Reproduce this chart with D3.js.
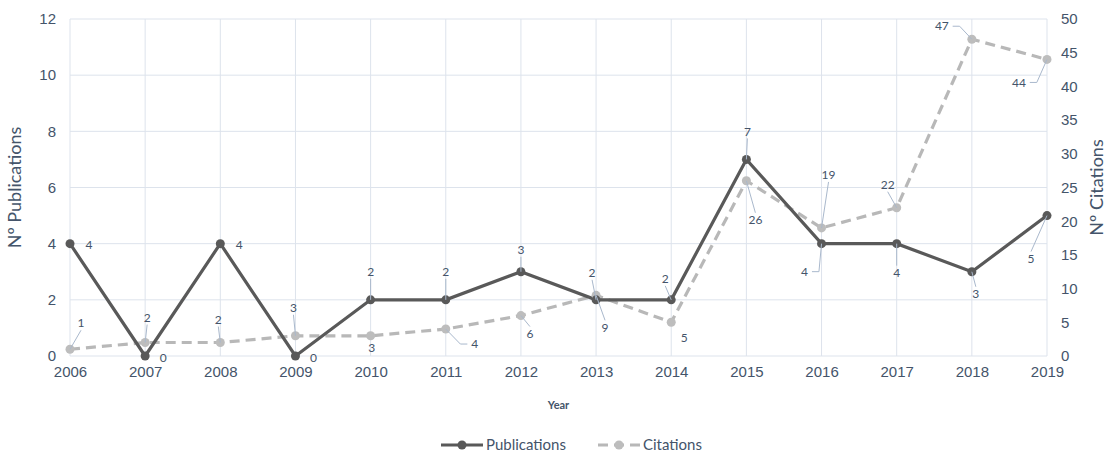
<!DOCTYPE html>
<html>
<head>
<meta charset="utf-8">
<script src="https://cdn.jsdelivr.net/npm/d3@7"></script>
<style>
  body { margin: 0; background: #fff; }
  svg { font-family: Lato, "Open Sans", sans-serif; }
  .tick text { fill: #44546a; font-size: 15px; }
  .lbl { fill: #44546a; font-size: 12px; }
</style>
</head>
<body>
<script>
// data
var years = ["2006","2007","2008","2009","2010","2011","2012","2013","2014","2015","2016","2017","2018","2019"];
var publications = [4, 0, 4, 0, 2, 2, 3, 2, 2, 7, 4, 4, 3, 5];
var citations = [1, 2, 2, 3, 3, 4, 6, 9, 5, 26, 19, 22, 47, 44];
var pubTicks = [0, 2, 4, 6, 8, 10, 12];
var citTicks = [0, 5, 10, 15, 20, 25, 30, 35, 40, 45, 50];

// label offsets from the point (layout only)
var pubLabelOff = [[19,1],[18,2],[19,1],[18,2],[0,-28],[0,-28],[0,-22],[-4,-27],[-6,-21],[1,-28],[-17,28],[0,29],[4,22],[-16,43]];
var citLabelOff = [[11,-26],[2,-25],[-2,-23],[-2,-28],[1,12],[29,15],[9,18],[9,32],[13,15],[9,39],[7,-53],[-9,-23],[-30,-13],[-28,23]];

var width = 1113, height = 452;
var margin = {top: 19, right: 66, bottom: 96, left: 70};
var pw = width - margin.left - margin.right,
    ph = height - margin.top - margin.bottom;

var x = d3.scalePoint().domain(years).range([0, pw]);
var yL = d3.scaleLinear().domain([0, 12]).range([ph, 0]);
var yR = d3.scaleLinear().domain([0, 50]).range([ph, 0]);

var svg = d3.select("body").append("svg")
    .attr("width", width)
    .attr("height", height);

var g = svg.append("g")
    .attr("transform", "translate(" + margin.left + "," + margin.top + ")");

// gridlines
g.append("g").selectAll("line").data(pubTicks).enter().append("line")
    .attr("x1", 0).attr("x2", pw)
    .attr("y1", function(d) { return yL(d); })
    .attr("y2", function(d) { return yL(d); })
    .attr("stroke", "#dde3ec").attr("stroke-width", 1);
g.append("g").selectAll("line").data(years).enter().append("line")
    .attr("x1", function(d) { return x(d); })
    .attr("x2", function(d) { return x(d); })
    .attr("y1", 0).attr("y2", ph)
    .attr("stroke", "#dde3ec").attr("stroke-width", 1);

// axes
var xAxis = g.append("g")
    .attr("class", "x axis")
    .attr("transform", "translate(0," + ph + ")")
    .call(d3.axisBottom(x).tickSize(0).tickPadding(10));
var yAxisL = g.append("g")
    .attr("class", "y axis")
    .call(d3.axisLeft(yL).tickValues(pubTicks).tickSize(0).tickPadding(14));
var yAxisR = g.append("g")
    .attr("class", "y axis")
    .attr("transform", "translate(" + pw + ",0)")
    .call(d3.axisRight(yR).tickValues(citTicks).tickSize(0).tickPadding(14));
[xAxis, yAxisL, yAxisR].forEach(function(a) { a.select(".domain").remove(); });

// axis titles
svg.append("text")
    .attr("transform", "translate(21," + (margin.top + ph / 2) + ") rotate(-90)")
    .attr("text-anchor", "middle")
    .attr("fill", "#44546a").style("font-size", "18px")
    .text("Nº Publications");
svg.append("text")
    .attr("transform", "translate(1103," + (margin.top + ph / 2) + ") rotate(-90)")
    .attr("text-anchor", "middle")
    .attr("fill", "#44546a").style("font-size", "18px")
    .text("Nº Citations");
svg.append("text")
    .attr("x", margin.left + pw / 2).attr("y", 409)
    .attr("text-anchor", "middle")
    .attr("fill", "#44546a").style("font-size", "11px").style("font-weight", "bold")
    .text("Year");

// lines
var pubLine = d3.line()
    .x(function(d, i) { return x(years[i]); })
    .y(function(d) { return yL(d); });
var citLine = d3.line()
    .x(function(d, i) { return x(years[i]); })
    .y(function(d) { return yR(d); });

g.append("path").datum(citations)
    .attr("d", citLine)
    .attr("fill", "none").attr("stroke", "#b8b8b8")
    .attr("stroke-width", 3.2).attr("stroke-dasharray", "10,6");
g.append("path").datum(publications)
    .attr("d", pubLine)
    .attr("fill", "none").attr("stroke", "#595959")
    .attr("stroke-width", 3.2);

g.append("g").selectAll("circle").data(citations).enter().append("circle")
    .attr("cx", function(d, i) { return x(years[i]); })
    .attr("cy", function(d) { return yR(d); })
    .attr("r", 4.5).attr("fill", "#bdbdbd");
g.append("g").selectAll("circle").data(publications).enter().append("circle")
    .attr("cx", function(d, i) { return x(years[i]); })
    .attr("cy", function(d) { return yL(d); })
    .attr("r", 4.5).attr("fill", "#595959");

// data labels with leader lines
function drawLabels(values, yScale, offs) {
  var lg = g.append("g");
  values.forEach(function(v, i) {
    var px = x(years[i]), py = yScale(v);
    var dx = offs[i][0], dy = offs[i][1];
    var lx = px + dx, ly = py + dy;
    var txt = String(v);
    var hw = txt.length * 3.4 + 2, hh = 7;
    var dist = Math.sqrt(dx * dx + dy * dy);
    if (dist > 20) {
      var path;
      if (Math.abs(dx) > hw + 6 && Math.abs(dy) < 30) {
        var s = dx < 0 ? 1 : -1;
        var ax = lx + s * (hw + 2);
        path = "M" + ax + "," + ly + "h" + (s * 7) + "L" + px + "," + py;
      } else {
        var ay = dy < 0 ? ly + hh : ly - hh;
        path = "M" + lx + "," + ay + "L" + px + "," + py;
      }
      lg.append("path").attr("d", path)
          .attr("fill", "none").attr("stroke", "#a9b8cc").attr("stroke-width", 1);
    }
    lg.append("text")
        .attr("class", "lbl")
        .attr("x", lx).attr("y", ly)
        .attr("dy", "0.35em")
        .attr("text-anchor", "middle")
        .text(txt);
  });
}
drawLabels(publications, yL, pubLabelOff);
drawLabels(citations, yR, citLabelOff);

// legend
var legend = svg.append("g").attr("transform", "translate(0,445)");
legend.append("line").attr("x1", 441).attr("x2", 483).attr("y1", 0).attr("y2", 0)
    .attr("stroke", "#595959").attr("stroke-width", 3.2);
legend.append("circle").attr("cx", 462).attr("cy", 0).attr("r", 4.5).attr("fill", "#595959");
legend.append("text").attr("x", 486).attr("y", 0).attr("dy", "0.35em")
    .attr("fill", "#44546a").style("font-size", "15px").text("Publications");
legend.append("line").attr("x1", 598).attr("x2", 640).attr("y1", 0).attr("y2", 0)
    .attr("stroke", "#b8b8b8").attr("stroke-width", 3.2).attr("stroke-dasharray", "10,6");
legend.append("circle").attr("cx", 619).attr("cy", 0).attr("r", 4.5).attr("fill", "#bdbdbd");
legend.append("text").attr("x", 643).attr("y", 0).attr("dy", "0.35em")
    .attr("fill", "#44546a").style("font-size", "15px").text("Citations");
</script>
</body>
</html>
